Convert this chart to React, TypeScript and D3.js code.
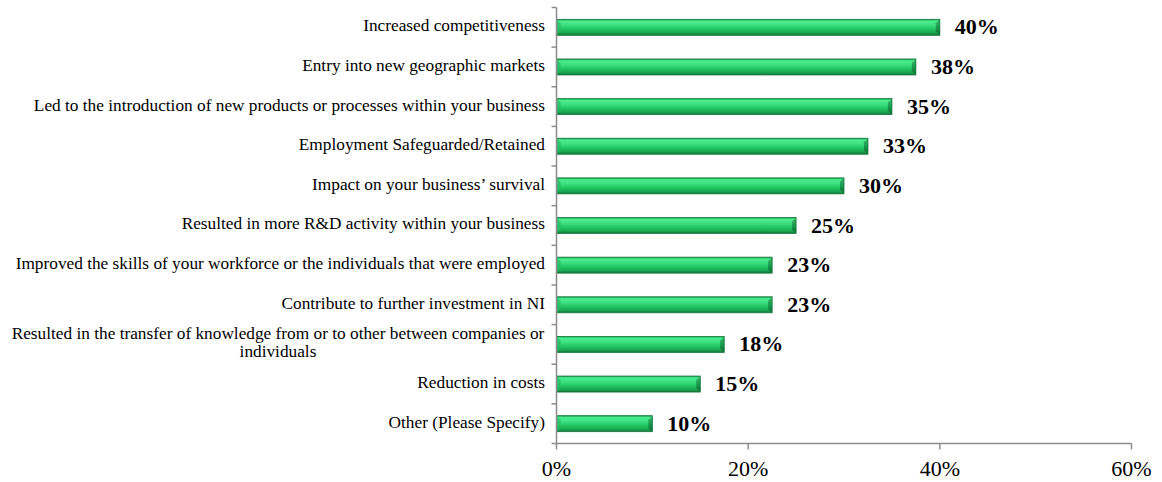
import React from "react";
import * as d3 from "d3";

const categories: string[] = [
  "Increased competitiveness",
  "Entry into new geographic markets",
  "Led to the introduction of new products or processes within your business",
  "Employment Safeguarded/Retained",
  "Impact on your business\u2019 survival",
  "Resulted in more R&D activity within your business",
  "Improved the skills of your workforce or the individuals that were employed",
  "Contribute to further investment in NI",
  "Resulted in the transfer of knowledge from or to other between companies or|individuals",
  "Reduction in costs",
  "Other (Please Specify)",
];
const values: number[] = [40, 37.5, 35, 32.5, 30, 25, 22.5, 22.5, 17.5, 15, 10];
const xTicks: number[] = [0, 20, 40, 60];

const W = 1162;
const H = 482;
const left = 556.5;
const right = 1131.5;
const top = 7.5;
const bottom = 443.5;
const FONT = "'Liberation Serif', 'Times New Roman', serif";

export default function App() {
  const x = d3.scaleLinear().domain([0, 60]).range([left, right]);
  const yBand = d3.scaleBand<string>().domain(categories).range([top, bottom]);
  const bh = 16;
  const axisColor = "#8c8c8c";
  return (
    <svg width={W} height={H} style={{ position: "absolute", left: 0, top: 0, background: "#fff" }}>
      <defs>
        <linearGradient id="barg" x1="0" y1="0" x2="0" y2="1">
          <stop offset="0" stopColor="#1a9a4a" />
          <stop offset="0.12" stopColor="#4aee90" />
          <stop offset="0.35" stopColor="#3ee080" />
          <stop offset="0.6" stopColor="#22c864" />
          <stop offset="0.85" stopColor="#19a54f" />
          <stop offset="1" stopColor="#11733a" />
        </linearGradient>
        <linearGradient id="endg" x1="0" y1="0" x2="0" y2="1">
          <stop offset="0" stopColor="#3fb66f" />
          <stop offset="0.5" stopColor="#1a9a4c" />
          <stop offset="1" stopColor="#0f6a34" />
        </linearGradient>
      </defs>
      {categories.map((c, i) => {
        const cy = (yBand(c) as number) + yBand.bandwidth() / 2;
        const y0 = cy - bh / 2;
        const x1 = x(values[i]);
        const b = 4;
        return (
          <g key={c}>
            <rect x={x(0)} y={y0} width={x1 - x(0)} height={bh} fill="url(#barg)" />
            <polygon
              points={`${x1 - b},${y0 + b} ${x1},${y0} ${x1},${y0 + bh} ${x1 - b},${y0 + bh - b}`}
              fill="url(#endg)"
            />
            <polygon
              points={`${x(0)},${y0} ${x(0) + b},${y0 + b} ${x(0) + b},${y0 + bh - b} ${x(0)},${y0 + bh}`}
              fill="#2bb865"
              opacity={0.7}
            />
            <rect x={x(0)} y={y0} width={x1 - x(0)} height={bh} fill="none" stroke="#137a3c" strokeWidth={0.8} />
            <text
              x={x1 + 15}
              y={cy + 2}
              dominantBaseline="middle"
              fontFamily={FONT}
              fontWeight="bold"
              fontSize={22}
              fill="#000"
            >
              {Math.round(values[i])}%
            </text>
          </g>
        );
      })}
      <line x1={left} x2={left} y1={top} y2={bottom} stroke={axisColor} strokeWidth={1.5} />
      {categories.map((c, i) => (
        <line key={"yt" + i} x1={left - 5} x2={left} y1={yBand(c) as number} y2={yBand(c) as number} stroke={axisColor} strokeWidth={1.5} />
      ))}
      <line x1={left - 5} x2={left} y1={bottom} y2={bottom} stroke={axisColor} strokeWidth={1.5} />
      <line x1={left} x2={right} y1={bottom} y2={bottom} stroke={axisColor} strokeWidth={1.5} />
      {xTicks.map((t) => (
        <g key={"xt" + t}>
          <line x1={x(t)} x2={x(t)} y1={bottom} y2={bottom + 6} stroke={axisColor} strokeWidth={1.5} />
          <text
            x={x(t)}
            y={bottom + 27}
            textAnchor="middle"
            fontFamily={FONT}
            fontSize={22}
            fill="#000"
            dominantBaseline="middle"
          >
            {t}%
          </text>
        </g>
      ))}
      {categories.map((c) => {
        const cy = (yBand(c) as number) + yBand.bandwidth() / 2;
        const lines = c.split("|");
        if (lines.length === 1) {
          return (
            <text
              key={"l" + c}
              x={545}
              y={cy}
              textAnchor="end"
              dominantBaseline="middle"
              fontFamily={FONT}
              fontSize={17.3}
              fill="#000"
            >
              {c}
            </text>
          );
        }
        return (
          <text
            key={"l" + c}
            textAnchor="middle"
            dominantBaseline="middle"
            fontFamily={FONT}
            fontSize={17.3}
            fill="#000"
          >
            <tspan x={278} y={cy - 9}>{lines[0]}</tspan>
            <tspan x={278} y={cy + 9}>{lines[1]}</tspan>
          </text>
        );
      })}
    </svg>
  );
}
